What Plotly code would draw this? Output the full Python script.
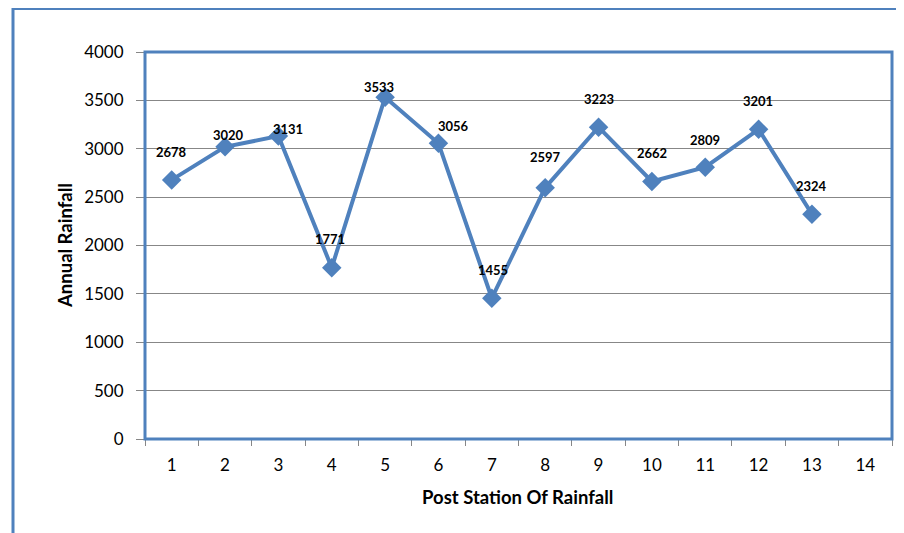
import plotly.graph_objects as go

stations = [1, 2, 3, 4, 5, 6, 7, 8, 9, 10, 11, 12, 13]
rainfall = [2678, 3020, 3131, 1771, 3533, 3056, 1455, 2597, 3223, 2662, 2809, 3201, 2324]
x_ticks = [1, 2, 3, 4, 5, 6, 7, 8, 9, 10, 11, 12, 13, 14]
y_ticks = [0, 500, 1000, 1500, 2000, 2500, 3000, 3500, 4000]
x_title = "Post Station Of Rainfall"
y_title = "Annual Rainfall"

# label offsets in pixels (x, y) relative to each point
label_shift = [(0, 28), (3, 12), (10, 7), (-2, 29), (-6, 10), (15, 17), (1, 28),
               (0, 31), (0, 28), (0, 28), (0, 27), (-1, 28), (0, 28)]

BLUE = "#4F81BD"
GRID = "#878787"
OFF = 8  # page body margin in the browser
W, H = 904 - OFF, 533 - OFF
L, R, T, B = 145 - OFF, 12, 52 - OFF, 94
PW, PH = W - L - R, H - T - B


def px_x(p):
    return (p - OFF - L) / PW


def px_y(p):
    return (H - B - (p - OFF)) / PH


fig = go.Figure()
fig.add_trace(go.Scatter(
    x=stations, y=rainfall, mode="lines+markers",
    line=dict(color=BLUE, width=4),
    marker=dict(symbol="diamond", size=15, color=BLUE),
    hoverinfo="x+y", showlegend=False,
))

annotations = []
for xv, yv, (dx, dy) in zip(stations, rainfall, label_shift):
    annotations.append(dict(
        x=xv, y=yv, xref="x", yref="y", text=str(yv), showarrow=False,
        xshift=dx, yshift=dy, xanchor="center", yanchor="middle",
        font=dict(family="Lato", size=13, color="black", weight="bold"),
    ))
annotations.append(dict(
    x=px_x(517), y=px_y(497), xref="paper", yref="paper", text="<b>%s</b>" % x_title,
    showarrow=False, xanchor="center", yanchor="middle",
    font=dict(family="Lato", size=18.5, color="black"),
))
annotations.append(dict(
    x=px_x(65), y=px_y(246), xref="paper", yref="paper", text="<b>%s</b>" % y_title,
    showarrow=False, xanchor="center", yanchor="middle", textangle=-90,
    font=dict(family="Lato", size=18.5, color="black"),
))

shapes = [
    dict(type="rect", xref="paper", yref="paper", x0=0, x1=1, y0=0, y1=1,
         line=dict(color=BLUE, width=3), layer="above"),
    # outer chart frame (top and left)
    dict(type="line", xref="paper", yref="paper", x0=px_x(12), x1=px_x(910), y0=px_y(9), y1=px_y(9),
         line=dict(color=BLUE, width=2)),
    dict(type="line", xref="paper", yref="paper", x0=px_x(13), x1=px_x(13), y0=px_y(8), y1=px_y(540),
         line=dict(color=BLUE, width=3)),
]

fig.update_layout(
    width=W, height=H,
    margin=dict(l=L, r=R, t=T, b=B, autoexpand=False),
    paper_bgcolor="white", plot_bgcolor="white",
    font=dict(family="Lato", size=17, color="black"),
    annotations=annotations, shapes=shapes,
    xaxis=dict(
        range=[0.5, 14.5], tickvals=x_ticks, ticktext=[str(t) for t in x_ticks],
        ticks="", showgrid=False, zeroline=False, automargin=False,
        showline=True, linecolor=GRID, linewidth=1, ticklabelstandoff=11,
        minor=dict(tick0=0.5, dtick=1, ticks="outside", ticklen=6, tickcolor=GRID, showgrid=False),
        tickfont=dict(size=17),
    ),
    yaxis=dict(
        range=[0, 4000], tickvals=y_ticks, ticks="outside", ticklen=8, tickcolor=GRID,
        showgrid=True, gridcolor=GRID, gridwidth=1, zeroline=False, automargin=False,
        showline=True, linecolor=GRID, linewidth=1, ticklabelstandoff=9,
        tickfont=dict(size=17),
    ),
)

fig.write_html("out.html")
